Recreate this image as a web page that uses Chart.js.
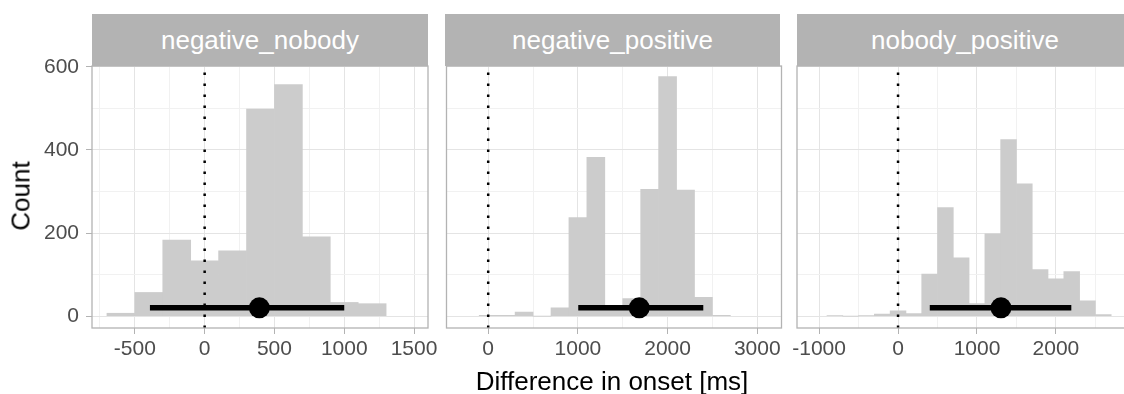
<!DOCTYPE html>
<html>
<head>
<meta charset="utf-8">
<script src="https://cdn.jsdelivr.net/npm/chart.js@4.4.1/dist/chart.umd.min.js"></script>
<style>
html,body{margin:0;padding:0;background:#fff;overflow:hidden;}
#wrap{position:relative;width:1124px;height:394px;overflow:hidden;font-family:"Liberation Sans",Arial,sans-serif;}
canvas{position:absolute;top:0;}
.strip{position:absolute;top:14px;height:52px;width:336px;background:#b3b3b3;color:#fff;font-size:26px;line-height:52px;text-align:center;white-space:nowrap;}
#ytitle{position:absolute;left:21px;top:196px;transform:translate(-50%,-50%) rotate(-90deg);font-size:26px;color:#000;white-space:nowrap;}
#xtitle{position:absolute;left:612px;top:381px;transform:translate(-50%,-50%);font-size:26px;color:#000;white-space:nowrap;}
</style>
</head>
<body>
<div id="wrap">
  <canvas id="c1" width="442" height="394" style="left:0px"></canvas>
  <canvas id="c2" width="356" height="394" style="left:436px"></canvas>
  <canvas id="c3" width="352" height="394" style="left:785px"></canvas>
  <div class="strip" style="left:92px">negative_nobody</div>
  <div class="strip" style="left:445px;width:335px">negative_positive</div>
  <div class="strip" style="left:797px">nobody_positive</div>
  <div id="ytitle">Count</div>
  <div id="xtitle">Difference in onset [ms]</div>
</div>
<script>
// ---- data (histogram bins of width 200, given by bin centre) ----
const panelNames = ["negative_nobody", "negative_positive", "nobody_positive"];

const nnCenters = [-600, -400, -200, 0, 200, 400, 600, 800, 1000, 1200];
const nnCounts  = [7, 57, 183, 133, 157, 498, 557, 191, 33, 30];

const npCenters = [0, 200, 400, 600, 800, 1000, 1200, 1400, 1600, 1800, 2000, 2200, 2400, 2600];
const npCounts  = [2, 2, 10, 0, 20, 237, 382, 15, 42, 305, 576, 303, 45, 2];

const nopCenters = [-800, -600, -400, -200, 0, 200, 400, 600, 800, 1000, 1200, 1400, 1600, 1800, 2000, 2200, 2400, 2600];
const nopCounts  = [1, 0, 1, 5, 13, 6, 101, 261, 140, 30, 198, 425, 318, 112, 90, 107, 37, 4];

// interval (line) and point estimate per panel
const ciLow  = [-392, 1004, 402];
const ciHigh = [1000, 2398, 2195];
const ciMid  = [392, 1684, 1304];
const ciLevel = 20;

// axis settings / tick labels
const yTicks = [0, 100, 200, 300, 400, 500, 600];
const yTickLabels = [0, 200, 400, 600];
const yLimits = [-28.5, 601.7];
const xLimits = [[-807, 1600], [-465, 3270], [-1280, 2894]];
const xTicks = [
  [-750, -500, -250, 0, 250, 500, 750, 1000, 1250, 1500],
  [0, 500, 1000, 1500, 2000, 2500, 3000],
  [-1000, -500, 0, 500, 1000, 1500, 2000, 2500]
];
const xTickLabels = [
  [-500, 0, 500, 1000, 1500],
  [0, 1000, 2000, 3000],
  [-1000, 0, 1000, 2000]
];

const FONT = '"Liberation Sans", Arial, sans-serif';

const borderPlugin = {
  id: 'panelBorder',
  afterDatasetsDraw(chart) {
    const a = chart.chartArea, ctx = chart.ctx;
    ctx.save();
    ctx.strokeStyle = '#b3b3b3';
    ctx.lineWidth = 1.3;
    ctx.strokeRect(a.left, a.top, a.right - a.left, a.bottom - a.top);
    ctx.restore();
  }
};

function makePanel(id, idx, centers, counts, showY, padL, padR) {
  const isMajorX = v => xTickLabels[idx].includes(v);
  const isMajorY = v => yTickLabels.includes(v);
  return new Chart(document.getElementById(id), {
    type: 'bar',
    data: {
      datasets: [
        {
          type: 'line',
          data: [{x: ciMid[idx], y: ciLevel}],
          showLine: false,
          pointRadius: 10.5,
          pointBackgroundColor: '#000',
          pointBorderWidth: 0,
          order: 0
        },
        {
          type: 'line',
          data: [{x: ciLow[idx], y: ciLevel}, {x: ciHigh[idx], y: ciLevel}],
          borderColor: '#000',
          borderWidth: 5.5,
          borderCapStyle: 'butt',
          pointRadius: 0,
          order: 1
        },
        {
          type: 'line',
          data: [{x: 0, y: yLimits[0]}, {x: 0, y: yLimits[1]}],
          borderColor: '#000',
          borderWidth: 2.5,
          borderDash: [2.5, 8.5],
          borderCapStyle: 'butt',
          pointRadius: 0,
          order: 2
        },
        {
          type: 'bar',
          data: centers.map((c, i) => ({x: c, y: counts[i]})),
          backgroundColor: '#cccccc',
          borderWidth: 0,
          barPercentage: 1,
          categoryPercentage: 1,
          order: 3
        }
      ]
    },
    options: {
      responsive: false,
      animation: false,
      events: [],
      layout: {padding: {left: padL, right: padR, top: 66, bottom: 0}},
      plugins: {legend: {display: false}, tooltip: {enabled: false}, title: {display: false}},
      scales: {
        x: {
          type: 'linear',
          min: xLimits[idx][0],
          max: xLimits[idx][1],
          offset: false,
          border: {display: false},
          grid: {
            offset: false,
            color: c => isMajorX(c.tick.value) ? '#e4e4e4' : '#f1f1f1',
            lineWidth: 1,
            drawTicks: true,
            tickLength: 6,
            tickColor: c => isMajorX(c.tick.value) ? '#b3b3b3' : 'rgba(0,0,0,0)'
          },
          ticks: {
            autoSkip: false,
            maxRotation: 0,
            padding: 3,
            color: '#4d4d4d',
            font: {size: 21, family: FONT},
            callback: v => isMajorX(v) ? String(v) : ''
          },
          afterBuildTicks: s => { s.ticks = xTicks[idx].map(v => ({value: v})); },
          afterFit: s => { s.height = 66; }
        },
        y: {
          type: 'linear',
          min: yLimits[0],
          max: yLimits[1],
          border: {display: false},
          grid: {
            color: c => isMajorY(c.tick.value) ? '#e4e4e4' : '#f1f1f1',
            lineWidth: 1,
            drawTicks: showY,
            tickLength: 6,
            tickColor: c => isMajorY(c.tick.value) ? '#b3b3b3' : 'rgba(0,0,0,0)'
          },
          ticks: {
            display: showY,
            autoSkip: false,
            padding: 7,
            color: '#4d4d4d',
            font: {size: 21, family: FONT},
            callback: v => isMajorY(v) ? String(v) : ''
          },
          afterBuildTicks: s => { s.ticks = yTicks.map(v => ({value: v})); },
          afterFit: s => { s.width = showY ? 92 : 0; }
        }
      }
    },
    plugins: [borderPlugin]
  });
}

makePanel('c1', 0, nnCenters, nnCounts, true, 0, 14);
makePanel('c2', 1, npCenters, npCounts, false, 9, 10);
makePanel('c3', 2, nopCenters, nopCounts, false, 12, 4);
</script>
</body>
</html>
